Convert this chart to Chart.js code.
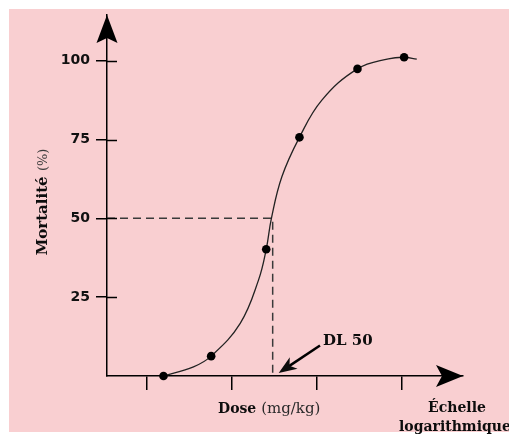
<!DOCTYPE html>
<html>
<head>
<meta charset="utf-8">
<script src="https://cdn.jsdelivr.net/npm/chart.js@4.4.1/dist/chart.umd.min.js"></script>
<style>
    html, body { margin: 0; padding: 0; background: #fff; }
    #wrap { width: 509px; height: 434px; }
</style>
</head>
<body>
<div id="wrap"><canvas id="doseChart" width="509" height="434"></canvas></div>
<script>
// Axis ticks (dose is on a log scale, ticks are unlabelled)
const doseTicks = [1, 2, 3, 4];
const mortalityTicks = [25, 50, 75, 100];

// Observed points
const doseObserved = [1.195, 1.756, 2.404, 2.795, 3.478, 4.027];
const mortalityObserved = [0, 6.3, 40.2, 75.7, 97.4, 101.1];

// Fitted curve
const doseCurve = [1.195, 1.548, 1.756, 2.098, 2.313, 2.404, 2.465, 2.588, 2.795, 3.059, 3.478, 3.842, 4.027, 4.176];
const mortalityCurve = [0, 2.9, 6.3, 16.7, 30.4, 40.2, 50.0, 63.2, 75.7, 87.5, 97.4, 100.6, 101.1, 100.5];

// DL 50
const dl50Dose = 2.48;
const dl50Mortality = 50;

const doseMin = 0.53;
const doseMax = 4.72;
const mortalityMax = 114.5;

const toPoints = (xs, ys) => xs.map((x, i) => ({ x: x, y: ys[i] }));

const serif = '"DejaVu Serif", serif';

// Background, arrows, inner tick marks and the labels
const decorations = {
    id: 'decorations',
    beforeDraw(chart) {
        const c = chart.ctx;
        c.save();
        c.fillStyle = '#ffffff';
        c.fillRect(0, 0, chart.width, chart.height);
        c.fillStyle = '#f9cfd1';
        c.fillRect(9, 9, chart.width - 9, chart.height - 11);
        c.restore();
    },
    afterDraw(chart) {
        const c = chart.ctx;
        const xs = chart.scales.x;
        const ys = chart.scales.y;
        const area = chart.chartArea;
        const x0 = area.left;
        const y0 = area.bottom;

        c.save();
        c.fillStyle = '#000';
        c.strokeStyle = '#000';

        // y arrow head
        c.beginPath();
        c.moveTo(x0, area.top);
        c.lineTo(x0 + 10.5, area.top + 28);
        c.lineTo(x0, area.top + 23);
        c.lineTo(x0 - 10.5, area.top + 28);
        c.closePath();
        c.fill();

        // x arrow head
        c.beginPath();
        c.moveTo(area.right, y0);
        c.lineTo(area.right - 27, y0 - 11);
        c.lineTo(area.right - 21, y0);
        c.lineTo(area.right - 27, y0 + 11);
        c.closePath();
        c.fill();

        // inner part of the y ticks
        c.lineWidth = 1.5;
        mortalityTicks.forEach((v) => {
            const py = Math.round(ys.getPixelForValue(v)) + 0.5;
            c.beginPath();
            c.moveTo(x0, py);
            c.lineTo(x0 + 10, py);
            c.stroke();
        });

        // axis titles
        c.fillStyle = '#0d0d0d';
        c.textBaseline = 'alphabetic';
        c.textAlign = 'left';

        // Mortalité (%)
        c.save();
        c.translate(47, 202);
        c.rotate(-Math.PI / 2);
        c.font = 'bold 15px ' + serif;
        const mw = c.measureText('Mortalité ').width;
        c.font = '13px ' + serif;
        const pw = c.measureText('(%)').width;
        const start = -(mw + pw) / 2;
        c.font = 'bold 15px ' + serif;
        c.fillText('Mortalité ', start, 0);
        c.fillStyle = '#3a3a3a';
        c.font = '13px ' + serif;
        c.fillText('(%)', start + mw, 0);
        c.restore();

        // Dose (mg/kg)
        c.font = 'bold 14px ' + serif;
        c.fillText('Dose', 218, 413);
        const dw = c.measureText('Dose ').width;
        c.fillStyle = '#2a2a2a';
        c.font = '15px ' + serif;
        c.fillText('(mg/kg)', 218 + dw, 413);

        // Échelle logarithmique
        c.fillStyle = '#0d0d0d';
        c.font = 'bold 14px ' + serif;
        c.textAlign = 'center';
        c.fillText('Échelle', 457, 412);
        c.textAlign = 'left';
        c.fillText('logarithmique', 399, 431);

        // DL 50 label and arrow
        c.font = 'bold 15px ' + serif;
        c.fillText('DL 50', 323, 345);
        const tipX = xs.getPixelForValue(dl50Dose) + 6;
        const tipY = y0 - 3;
        const fromX = 320;
        const fromY = 345.5;
        const ang = Math.atan2(tipY - fromY, tipX - fromX);
        const cs = Math.cos(ang);
        const sn = Math.sin(ang);
        c.lineWidth = 2.5;
        c.beginPath();
        c.moveTo(fromX, fromY);
        c.lineTo(tipX - 12 * cs, tipY - 12 * sn);
        c.stroke();
        c.beginPath();
        c.moveTo(tipX, tipY);
        c.lineTo(tipX - 18 * cs + 7 * sn, tipY - 18 * sn - 7 * cs);
        c.lineTo(tipX - 13 * cs, tipY - 13 * sn);
        c.lineTo(tipX - 18 * cs - 7 * sn, tipY - 18 * sn + 7 * cs);
        c.closePath();
        c.fill();
        c.restore();
    }
};

const ctx = document.getElementById('doseChart').getContext('2d');
const doseChart = new Chart(ctx, {
    type: 'line',
    data: {
        datasets: [
            {
                label: 'Observations',
                data: toPoints(doseObserved, mortalityObserved),
                showLine: false,
                pointRadius: 4.3,
                pointBackgroundColor: '#000',
                pointBorderWidth: 0,
                clip: false,
            },
            {
                label: 'Courbe',
                data: toPoints(doseCurve, mortalityCurve),
                borderColor: '#222',
                borderWidth: 1.3,
                pointRadius: 0,
                tension: 0.4,
                clip: false,
            },
            {
                label: 'DL 50',
                data: [
                    { x: doseMin, y: dl50Mortality },
                    { x: dl50Dose, y: dl50Mortality },
                    { x: dl50Dose, y: 0 },
                ],
                borderColor: '#3a3a3a',
                borderWidth: 1.5,
                borderDash: [8, 5],
                pointRadius: 0,
                tension: 0,
                clip: false,
            },
        ],
    },
    options: {
        responsive: false,
        devicePixelRatio: 1,
        animation: false,
        events: [],
        layout: { padding: { top: 15, right: 46, left: 0, bottom: 0 } },
        plugins: {
            legend: { display: false },
            tooltip: { enabled: false },
        },
        scales: {
            x: {
                type: 'linear',
                min: doseMin,
                max: doseMax,
                afterBuildTicks: (scale) => { scale.ticks = doseTicks.map((v) => ({ value: v })); },
                afterFit: (scale) => { scale.height = 58; },
                border: { display: true, color: '#000', width: 1.5 },
                grid: {
                    display: true,
                    drawOnChartArea: false,
                    drawTicks: true,
                    tickLength: 14,
                    color: '#000',
                    lineWidth: 1.5,
                },
                ticks: { display: false },
            },
            y: {
                type: 'linear',
                min: 0,
                max: mortalityMax,
                afterBuildTicks: (scale) => { scale.ticks = mortalityTicks.map((v) => ({ value: v })); },
                afterFit: (scale) => { scale.width = 107; },
                border: { display: true, color: '#000', width: 1.5 },
                grid: {
                    display: true,
                    drawOnChartArea: false,
                    drawTicks: true,
                    tickLength: 11,
                    color: '#000',
                    lineWidth: 1.5,
                },
                ticks: {
                    padding: 6,
                    color: '#111',
                    font: { family: '"DejaVu Sans", sans-serif', size: 14, weight: 'bold' },
                },
            },
        },
    },
    plugins: [decorations],
});
</script>
</body>
</html>
